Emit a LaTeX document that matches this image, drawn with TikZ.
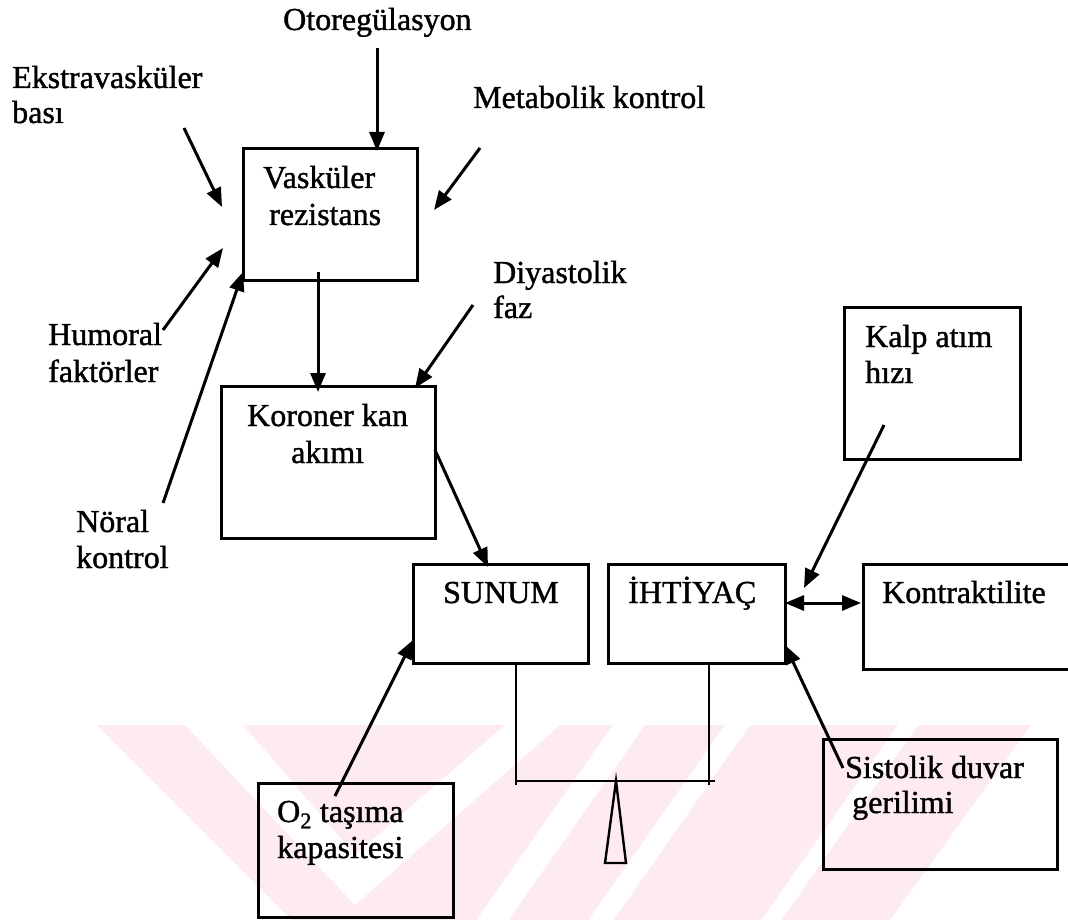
\documentclass[tikz,border=0pt]{standalone}
\usepackage{fontspec}
\setmainfont[FakeBold=1.2]{Liberation Serif}
\usetikzlibrary{arrows.meta}
\definecolor{wmpink}{RGB}{253,235,239}
\tikzset{
  box/.style={draw, line width=3pt, inner sep=0pt, anchor=north west},
  lbl/.style={anchor=base west, inner sep=0pt, font=\fontsize{32}{38}\selectfont},
  arr/.style={line width=3pt, -{Triangle[length=19pt,width=15pt]}},
  darr/.style={line width=3pt, {Triangle[length=19pt,width=15pt]}-{Triangle[length=19pt,width=15pt]}},
  lever/.style={line width=2.6pt},
  fulcrum/.style={line width=2.4pt, line join=miter}
}
\begin{document}
\begin{tikzpicture}[x=1pt,y=-1pt]
\useasboundingbox (0,0) rectangle (1068,920);
\fill[white] (0,0) rectangle (1068,920);
% watermark
\begin{scope}
  \clip (97,725) -- (1031,725) -- (890,920) -- (292,920) -- cycle;
  \fill[wmpink] (90,725) rectangle (1040,920);
  \fill[white] (185,725) -- (355,905) -- (560,725) -- (505,725) -- (355,855) -- (243,725) -- cycle;
  \fill[white] (613,725) -- (645,725) -- (508.5,920) -- (476.5,920) -- cycle;
  \fill[white] (725,725) -- (750,725) -- (613.5,920) -- (588.5,920) -- cycle;
  \fill[white] (898,725) -- (918,725) -- (781.5,920) -- (761.5,920) -- cycle;
\end{scope}
% boxes
\node[box, minimum width=174pt, minimum height=132pt] (vask) at (242,147) {};
\node[box, minimum width=214pt, minimum height=152pt] (koroner) at (220,385) {};
\node[box, minimum width=176pt, minimum height=152pt] (kalp) at (843,306) {};
\node[box, minimum width=175pt, minimum height=99pt] (sunum) at (412,563) {};
\node[box, minimum width=177pt, minimum height=99pt] (ihtiyac) at (607,563) {};
\node[box, minimum width=230pt, minimum height=105pt] (kontr) at (862,563) {};
\node[box, minimum width=234pt, minimum height=130pt] (sistolik) at (822,738) {};
\node[box, minimum width=195pt, minimum height=134pt] (o2) at (257,782) {};
% texts
\node[lbl] (t-oto) at (283,30) {Otoregülasyon};
\node[lbl] (t-eks1) at (12,88) {Ekstravasküler};
\node[lbl] (t-eks2) at (12,123) {bası};
\node[lbl] (t-met) at (473,108) {Metabolik kontrol};
\node[lbl] (t-vas1) at (263,188) {Vasküler};
\node[lbl] (t-vas2) at (269,225) {rezistans};
\node[lbl] (t-diy1) at (493,283) {Diyastolik};
\node[lbl] (t-diy2) at (493,318) {faz};
\node[lbl] (t-hum1) at (48,345) {Humoral};
\node[lbl] (t-hum2) at (48,382) {faktörler};
\node[lbl] (t-kor1) at (247,426) {Koroner kan};
\node[lbl] (t-kor2) at (291,463) {akımı};
\node[lbl] (t-kal1) at (865,347) {Kalp atım};
\node[lbl] (t-kal2) at (865,383) {hızı};
\node[lbl] (t-nor1) at (76,532) {Nöral};
\node[lbl] (t-nor2) at (76,568) {kontrol};
\node[lbl] (t-sun) at (443,603) {SUNUM};
\node[lbl] (t-iht) at (628,603) {İHTİYAÇ};
\node[lbl] (t-kon) at (882,603) {Kontraktilite};
\node[lbl] (t-sis1) at (845,778) {Sistolik duvar};
\node[lbl] (t-sis2) at (852,813) {gerilimi};
\node[lbl] (t-o21) at (277,822) {O\textsubscript{2} taşıma};
\node[lbl] (t-o22) at (277,858) {kapasitesi};
% connector end points
\coordinate (oto-a) at (377,48);   \coordinate (oto-b) at (377,151);
\coordinate (eks-a) at (184,128);  \coordinate (eks-b) at (222,207);
\coordinate (met-a) at (480,148);  \coordinate (met-b) at (434,210);
\coordinate (hum-a) at (163,330);  \coordinate (hum-b) at (223,248);
\coordinate (nor-a) at (163,503);  \coordinate (nor-b) at (243,272);
\coordinate (vk-a) at (318,272);   \coordinate (vk-b) at (318,392);
\coordinate (diy-a) at (473,305);  \coordinate (diy-b) at (415,388);
\coordinate (ks-a) at (435,450);   \coordinate (ks-b) at (488,567);
\coordinate (kal-a) at (884,425);  \coordinate (kal-b) at (804,588);
\coordinate (ik-a) at (785,603);   \coordinate (ik-b) at (861,603);
\coordinate (o2-a) at (335,796);   \coordinate (o2-b) at (413,640);
\coordinate (sis-a) at (843,768);  \coordinate (sis-b) at (785,645);
% connectors
\draw[arr] (oto-a) -- (oto-b);
\draw[arr] (eks-a) -- (eks-b);
\draw[arr] (met-a) -- (met-b);
\draw[arr] (hum-a) -- (hum-b);
\draw[arr] (nor-a) -- (nor-b);
\draw[arr] (vk-a) -- (vk-b);
\draw[arr] (diy-a) -- (diy-b);
\draw[arr] (ks-a) -- (ks-b);
\draw[arr] (kal-a) -- (kal-b);
\draw[darr] (ik-a) -- (ik-b);
\draw[arr] (o2-a) -- (o2-b);
\draw[arr] (sis-a) -- (sis-b);
% balance
\coordinate (lv-lt) at (516,664); \coordinate (lv-lb) at (516,785);
\coordinate (lv-rt) at (709,664); \coordinate (lv-rb) at (709,785);
\coordinate (lv-h1) at (516,781); \coordinate (lv-h2) at (715,781);
\draw[lever] (lv-lt) -- (lv-lb);
\draw[lever] (lv-rt) -- (lv-rb);
\draw[lever] (lv-h1) -- (lv-h2);
\coordinate (fu-top) at (616,781);
\coordinate (fu-l) at (605,863);
\coordinate (fu-r) at (626,863);
\draw[fulcrum] (fu-top) -- (fu-l) -- (fu-r) -- cycle;
\end{tikzpicture}
\end{document}
